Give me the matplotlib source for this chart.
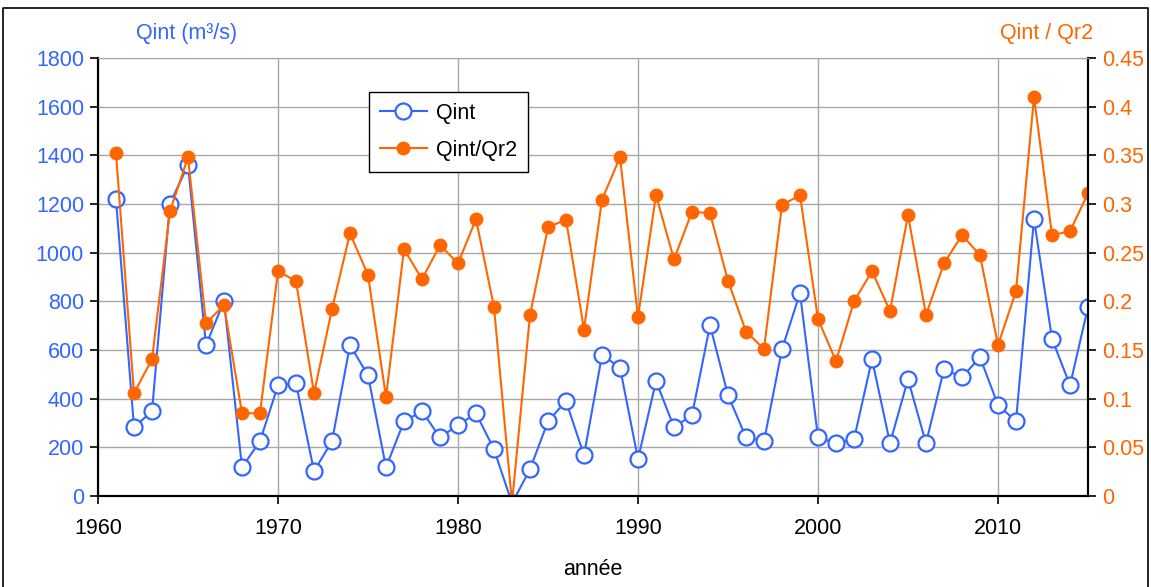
import matplotlib.pyplot as plt
from matplotlib.lines import Line2D

plt.rcParams['font.family'] = ['Liberation Sans', 'DejaVu Sans']

# Data
years = list(range(1961, 2016))
qint = [1220, 283, 348, 1202, 1360, 620, 801, 118, 225, 455,
        463, 102, 225, 620, 496, 118, 307, 348, 241, 291,
        340, 192, -30, 110, 307, 390, 167, 579, 528, 151,
        472, 283, 332, 702, 414, 241, 225, 603, 834, 241,
        217, 233, 562, 217, 480, 217, 521, 488, 570, 374,
        307, 1138, 646, 455, 776]
ratio = [0.352, 0.1056, 0.1406, 0.2927, 0.348, 0.1776, 0.196, 0.085, 0.085, 0.231,
         0.2207, 0.1056, 0.192, 0.270, 0.227, 0.1015, 0.2536, 0.2228, 0.2578, 0.239,
         0.2845, 0.194, -0.0075, 0.186, 0.276, 0.284, 0.171, 0.3046, 0.348, 0.1837,
         0.309, 0.243, 0.292, 0.2906, 0.221, 0.169, 0.151, 0.299, 0.309, 0.1817,
         0.1385, 0.200, 0.231, 0.190, 0.2886, 0.186, 0.239, 0.268, 0.2475, 0.155,
         0.2105, 0.410, 0.268, 0.272, 0.311]
ratio_ticks = ['0', '0.05', '0.1', '0.15', '0.2', '0.25', '0.3', '0.35', '0.4', '0.45']

blue = '#3366FF'
orange = '#FF6600'

fig = plt.figure(figsize=(11.51, 5.87), dpi=100)
ax = fig.add_axes([98 / 1151, 91 / 587, 990 / 1151, 438 / 587])
ax2 = ax.twinx()

ax.plot(years, qint, color=blue, lw=1.5, marker='o', ms=11.5,
        mfc='white', mec=blue, mew=1.6, label='Qint')
ax2.plot(years, ratio, color=orange, lw=1.5, marker='o', ms=9,
         mfc=orange, mec=orange, label='Qint/Qr2')

ax.set_xlim(1960, 2015)
ax.set_ylim(0, 1800)
ax2.set_ylim(0, 0.45)
ax.set_xticks(range(1960, 2011, 10))
ax.set_yticks(range(0, 1801, 200))
ax2.set_yticks([i * 0.05 for i in range(10)])
ax2.set_yticklabels(ratio_ticks)

ax.grid(True, color='#A8A8A8', lw=1.0)
ax.set_axisbelow(True)

for a in (ax, ax2):
    a.spines['top'].set_color('#A8A8A8')
    a.spines['bottom'].set_linewidth(1.5)
    a.spines['left'].set_linewidth(1.5)
    a.spines['right'].set_linewidth(1.5)

ax.tick_params(axis='x', labelsize=15.5, direction='out', length=6, width=1.2, pad=10)
ax.tick_params(axis='y', labelsize=15.5, labelcolor=blue, color='black',
               direction='out', length=6, width=1.2, pad=4)
ax2.tick_params(axis='y', labelsize=15.5, labelcolor=orange, direction='out',
                length=6, width=1.2, pad=4)

ax.set_xlabel('année', fontsize=15.5, labelpad=14)
fig.text(136 / 1151, 1 - 33 / 587, 'Qint (m³/s)', color=blue, fontsize=15.5, va='center', ha='left')
fig.text(1093 / 1151, 1 - 33 / 587, 'Qint / Qr2', color=orange, fontsize=15.5, va='center', ha='right')

handles = [Line2D([], [], color=blue, lw=1.5, marker='o', ms=11.5, mfc='white', mec=blue, mew=1.6),
           Line2D([], [], color=orange, lw=1.5, marker='o', ms=9, mfc=orange, mec=orange)]
leg = ax2.legend(handles, ['Qint', 'Qint/Qr2'], loc='upper left',
                 bbox_to_anchor=((369 - 98) / 990, 1 - (92 - 58) / 438), borderaxespad=0,
                 fontsize=15.5, frameon=True, fancybox=False, edgecolor='black', framealpha=1,
                 handlelength=2.2, handletextpad=0.4, borderpad=0.5, labelspacing=0.75)
leg.get_frame().set_linewidth(1.0)

# outer border of the chart area
fig.add_artist(Line2D([3 / 1151, 3 / 1151, 1148 / 1151, 1148 / 1151],
                      [0, 1 - 8 / 587, 1 - 8 / 587, 0], color='black', lw=1.2))

fig.savefig('out.png', dpi=100)
